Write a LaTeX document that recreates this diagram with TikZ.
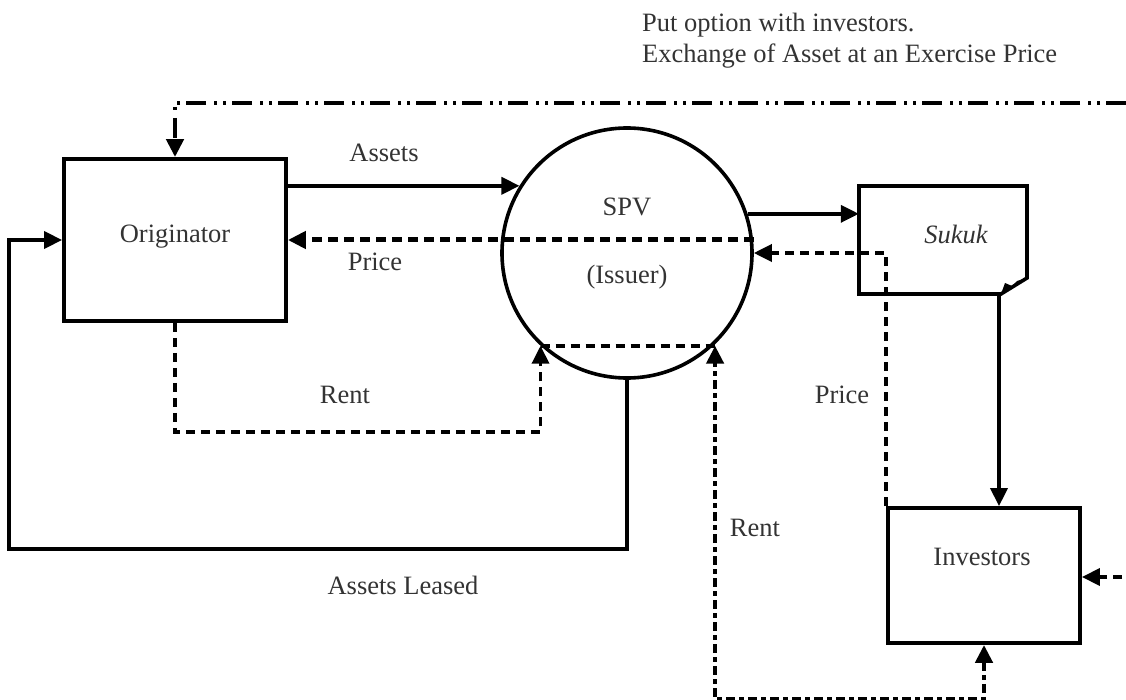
\documentclass[tikz,border=0pt]{standalone}
\usepackage{fontspec}
\setmainfont{Liberation Serif}
\usetikzlibrary{arrows.meta,calc}
\begin{document}
\begin{tikzpicture}[x=1pt,y=-1pt,
  tri/.style={-{Triangle[length=18pt,width=17pt]}},
  tritri/.style={{Triangle[length=18pt,width=17pt]}-{Triangle[length=18pt,width=17pt]}},
  box/.style={draw, line width=3.8pt, rectangle, inner sep=0pt},
  lbl/.style={font=\fontsize{26.5}{31}\selectfont, text=black!80, inner sep=0pt},
  conn/.style={line width=3.6pt},
  pricedash/.style={line width=5pt, dash pattern=on 10pt off 6pt},
  lightdash/.style={line width=3.6pt, dash pattern=on 9pt off 6pt},
  heavydash/.style={line width=4.5pt, dash pattern=on 9pt off 4pt on 5pt off 4pt},
  dashdotdot/.style={line width=4.5pt, dash pattern=on 20pt off 6pt on 3pt off 6pt on 3pt off 8pt}]
\useasboundingbox (0,0) rectangle (1126,700);

% nodes
\node[box, minimum width=222pt, minimum height=162pt] (orig) at (175,240) {};
\node[lbl] (origlbl) at (175,237) {Originator};
\node[draw, circle, line width=3.6pt, minimum size=250pt, inner sep=0pt] (spv) at (627,253) {};
\node[lbl] (spvlbl) at (627,207) {SPV};
\node[lbl] (issuerlbl) at (627,277) {(Issuer)};
\node[minimum width=168pt, minimum height=108pt, inner sep=0pt] (sukuk) at (943,240) {};
\draw[line width=3.6pt, line join=miter] (859,186) -- (1027,186) -- (1027,278) -- (1001,294) -- (859,294) -- cycle;
\fill (1001,294) -- (1005,283) -- (1012,286) -- (1017,281) -- (1027,278) -- cycle;
\coordinate (fold) at (999,294);
\node[lbl, font=\fontsize{26.5}{31}\selectfont\itshape] (sukuklbl) at (956,234) {Sukuk};
\node[box, minimum width=192pt, minimum height=135pt] (inv) at (984,575.5) {};
\node[lbl] (invlbl) at (982,557) {Investors};

% top text
\node[lbl, anchor=base west] (t1) at (642,32) {Put option with investors.};
\node[lbl, anchor=base west] (t2) at (642,63) {Exchange of Asset at an Exercise Price};

% connectors
\coordinate (topR) at (1126,103);
\draw[dashdotdot, tri] (topR) -- (orig.north |- topR) -- (orig.north);
\draw[conn, tri] (orig.east |- spv.148) -- (spv.148);
\node[lbl] (assetslbl) at (384,153) {Assets};
\draw[pricedash, tri] (spv.east |- orig.east) -- (orig.east);
\node[lbl] (pricelbl) at (375,262) {Price};
\coordinate (cl) at (spv.-133.5);
\coordinate (cr) at (spv.-46.5 |- cl);
\draw[lightdash, tri] (orig.south) -- ++(0,109) -| (cl);
\node[lbl] (rentlbl) at (345,395) {Rent};
\draw[lightdash] (cl) -- (cr);
\draw[heavydash, tritri] (inv.south) -- ++(0,54) -| (cr);
\node[lbl] (rent2lbl) at (755,528) {Rent};
\draw[conn, tri] (spv.18.2) -- (sukuk.west |- spv.18.2);
\draw[lightdash, tri] (inv.north west) |- (spv.east);
\node[lbl] (price2lbl) at (842,395) {Price};
\draw[conn, tri] (fold) -- (fold |- inv.north);
\coordinate (lb) at (9,549);
\draw[conn, tri] (spv.south) |- (lb) |- (orig.west);
\node[lbl] (leasedlbl) at (403,585) {Assets Leased};
\coordinate (rin) at (1122,577);
\draw[lightdash, tri] (rin) -- (inv.east |- rin);
\end{tikzpicture}
\end{document}
